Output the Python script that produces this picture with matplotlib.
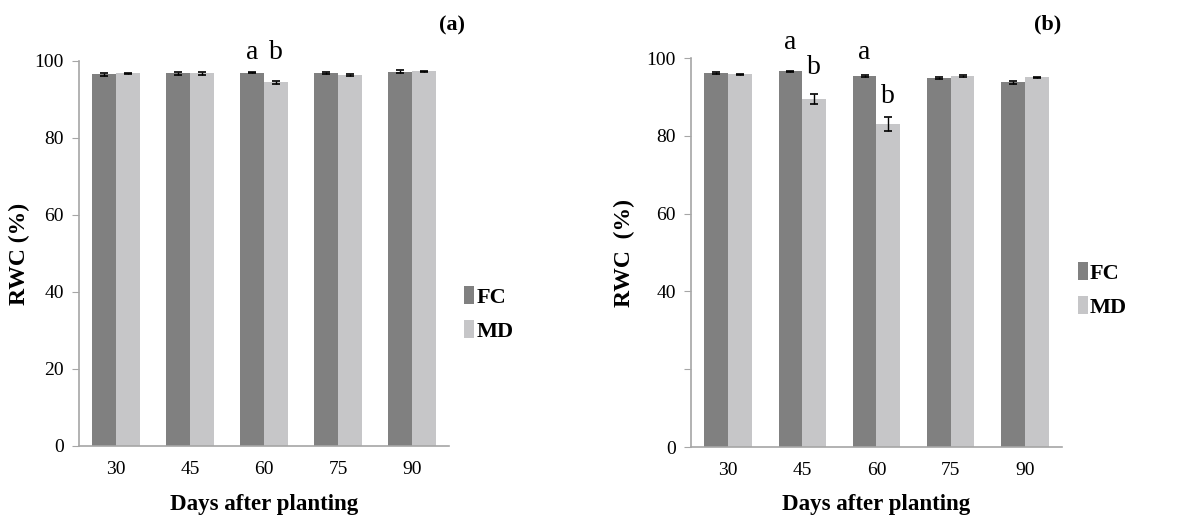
from matplotlib import pyplot as plt
import numpy as np

plt.rcParams.update({'font.family': 'Liberation Serif', 'font.size': 14})

days = ["30", "45", "60", "75", "90"]

# panel (a)
fc_a = [96.5, 96.8, 96.9, 96.9, 97.2]
fc_a_err = [0.3, 0.4, 0.15, 0.2, 0.4]
md_a = [96.8, 96.8, 94.5, 96.3, 97.3]
md_a_err = [0.2, 0.4, 0.4, 0.2, 0.2]

# panel (b)
fc_b = [96.1, 96.6, 95.4, 94.9, 93.8]
fc_b_err = [0.2, 0.15, 0.2, 0.2, 0.4]
md_b = [95.8, 89.5, 83.0, 95.4, 95.0]
md_b_err = [0.2, 1.3, 1.8, 0.2, 0.2]

# letters: (category index, series offset, y position)
letters_a = [(2, -1, 102.2, "a"), (2, 1, 102.2, "b")]
letters_b = [(1, -1, 104.0, "a"), (1, 1, 97.6, "b"),
             (2, -1, 101.5, "a"), (2, 1, 90.0, "b")]

fc_col = "#808080"
md_col = "#c6c6c8"
axis_col = "#a6a6a6"
w = 0.32

fig = plt.figure(figsize=(11.93, 5.19), dpi=100)
ax_a = fig.add_axes([0.0662, 0.1407, 0.3101, 0.7418])
ax_b = fig.add_axes([0.5792, 0.1387, 0.3110, 0.7495])


def draw(ax, fc, fc_err, md, md_err, letters, yticks, ylabels, ylab, ylab_x,
         xlab_y, leg_y, tag, tag_x, tag_y):
    x = np.arange(len(days))
    ax.bar(x - w / 2, fc, w, color=fc_col, label="FC")
    ax.bar(x + w / 2, md, w, color=md_col, label="MD")
    ax.errorbar(x - w / 2, fc, yerr=fc_err, fmt="none", ecolor="black",
                elinewidth=1, capsize=3, capthick=1.2)
    ax.errorbar(x + w / 2, md, yerr=md_err, fmt="none", ecolor="black",
                elinewidth=1, capsize=3, capthick=1.2)
    for i, side, yy, s in letters:
        ax.text(i + side * w / 2, yy, s, ha="center", va="center",
                fontsize=20, clip_on=False)
    ax.set_xlim(-0.5, len(days) - 0.5)
    ax.set_ylim(0, 100)
    ax.set_xticks(x)
    ax.set_xticklabels(days)
    ax.set_yticks(yticks)
    ax.set_yticklabels(ylabels)
    ax.tick_params(axis="x", length=0, pad=11)
    ax.tick_params(axis="y", length=5, color=axis_col, pad=6)
    for sp in ["top", "right"]:
        ax.spines[sp].set_visible(False)
    for sp in ["left", "bottom"]:
        ax.spines[sp].set_color(axis_col)
        ax.spines[sp].set_linewidth(1.2)
    ax.set_xlabel("Days after planting", fontsize=16.5, fontweight="bold")
    ax.xaxis.set_label_coords(0.5, xlab_y)
    ax.set_ylabel(ylab, fontsize=17, fontweight="bold")
    ax.yaxis.set_label_coords(ylab_x, 0.5)
    ax.legend(loc="center left", bbox_to_anchor=(1.0, leg_y), frameon=False,
              prop={'weight': 'bold', 'size': 16}, handlelength=0.45,
              handleheight=0.85, handletextpad=0.1, labelspacing=0.55,
              borderaxespad=0.3)
    ax.text(tag_x, tag_y, tag, transform=ax.transAxes, ha="center", va="center",
            fontsize=16, fontweight="bold")


draw(ax_a, fc_a, fc_a_err, md_a, md_a_err, letters_a,
     [0, 20, 40, 60, 80, 100], ["0", "20", "40", "60", "80", "100"],
     "RWC (%)", -0.133, -0.125, 0.343, "(a)", 1.008, 1.091)
draw(ax_b, fc_b, fc_b_err, md_b, md_b_err, letters_b,
     [0, 20, 40, 60, 80, 100], ["0", "", "40", "60", "80", "100"],
     "RWC  (%)", -0.15, -0.121, 0.404, "(b)", 0.962, 1.085)

plt.savefig("out.png", dpi=100)
